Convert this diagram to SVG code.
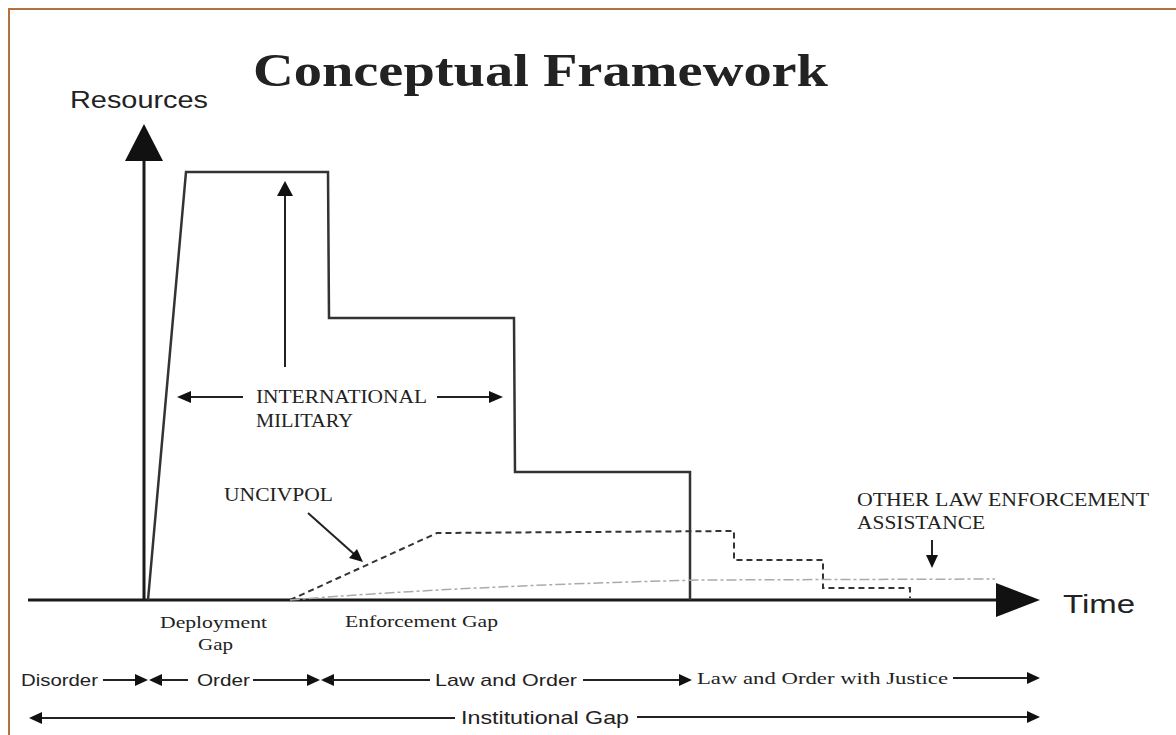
<svg xmlns="http://www.w3.org/2000/svg" width="1176" height="735" viewBox="0 0 1176 735">
<defs>
<style>
.ln{stroke:#222;stroke-width:2;fill:none}
.ax{stroke:#1a1a1a;stroke-width:3;fill:none}
.curve{stroke:#333;stroke-width:2.5;fill:none;stroke-linejoin:miter}
.dash{stroke:#333;stroke-width:2;fill:none;stroke-dasharray:6,4}
.faint{stroke:#aaa;stroke-width:1.5;fill:none;stroke-dasharray:10,3,3,3}
.hd{fill:#111}
.sans{font-family:"Liberation Sans",Arial,sans-serif;fill:#222}
.serif{font-family:"Liberation Serif","Times New Roman",serif;fill:#222}
</style>
</defs>
<rect width="1176" height="735" fill="#fff"/>
<g id="frame">
<path d="M9,735 L9,9 L1176,9" stroke="#b5703f" stroke-width="2" fill="none"/>
</g>
<g id="title">
<text class="serif" x="253" y="86" font-size="46" font-weight="bold" textLength="575" lengthAdjust="spacingAndGlyphs" fill="#111">Conceptual Framework</text>
</g>
<g id="axes">
<line class="ax" x1="144" y1="158" x2="144" y2="600"/>
<polygon class="hd" points="144,124 125,161 163,161"/>
<line class="ax" x1="28" y1="600" x2="1000" y2="600"/>
<polygon class="hd" points="996,583 1040,600 996,617"/>
</g>
<g id="resources">
<text class="sans" x="70" y="108" font-size="23" textLength="138" lengthAdjust="spacingAndGlyphs">Resources</text>
</g>
<g id="time">
<text class="sans" x="1063" y="613" font-size="25" textLength="72" lengthAdjust="spacingAndGlyphs">Time</text>
</g>
<g id="connectors">
<path id="military-curve" class="curve" d="M148,600 L186,172 L328,172 L329,318 L514,318 L515,472 L690,472 L690,600"/>
<path id="uncivpol-curve" class="dash" d="M290,600 L437,533 L734,531 L734,560 L823,560 L823,588 L910,588 L910,598"/>
<path id="other-curve" class="faint" d="M290,600 Q460,586 700,580 L995,579"/>
<line class="ln" x1="285" y1="367" x2="285" y2="193"/>
<polygon class="hd" points="285,181 277,196 293,196"/>
<line class="ln" x1="243" y1="397" x2="188" y2="397"/>
<polygon class="hd" points="177,397 191,391 191,403"/>
<line class="ln" x1="437" y1="397" x2="492" y2="397"/>
<polygon class="hd" points="503,397 489,391 489,403"/>
<line class="ln" x1="308" y1="513" x2="354" y2="554"/>
<polygon class="hd" points="363,562 349,558 357,549"/>
<line class="ln" x1="932" y1="540" x2="932" y2="557"/>
<polygon class="hd" points="932,568 926,555 938,555"/>
<line class="ln" x1="103" y1="680" x2="138" y2="680"/>
<polygon class="hd" points="148,680 135,674 135,686"/>
<polygon class="hd" points="149,680 162,674 162,686"/>
<line class="ln" x1="160" y1="680" x2="188" y2="680"/>
<line class="ln" x1="253" y1="680" x2="310" y2="680"/>
<polygon class="hd" points="320,680 307,674 307,686"/>
<polygon class="hd" points="321,680 334,674 334,686"/>
<line class="ln" x1="332" y1="680" x2="430" y2="680"/>
<line class="ln" x1="583" y1="680" x2="682" y2="680"/>
<polygon class="hd" points="692,680 679,674 679,686"/>
<line class="ln" x1="953" y1="678" x2="1030" y2="678"/>
<polygon class="hd" points="1040,678 1027,672 1027,684"/>
<line class="ln" x1="40" y1="718" x2="455" y2="718"/>
<polygon class="hd" points="29,718 42,712 42,724"/>
<line class="ln" x1="637" y1="717" x2="1030" y2="717"/>
<polygon class="hd" points="1040,717 1027,711 1027,723"/>
</g>
<g id="international-military">
<text class="serif" x="256" y="403" font-size="18" textLength="171" lengthAdjust="spacingAndGlyphs">INTERNATIONAL</text>
<text class="serif" x="256" y="427" font-size="18" textLength="97" lengthAdjust="spacingAndGlyphs">MILITARY</text>
</g>
<g id="uncivpol">
<text class="serif" x="224" y="501" font-size="18" textLength="109" lengthAdjust="spacingAndGlyphs">UNCIVPOL</text>
</g>
<g id="other-law">
<text class="serif" x="857" y="506" font-size="18" textLength="292" lengthAdjust="spacingAndGlyphs">OTHER LAW ENFORCEMENT</text>
<text class="serif" x="857" y="529" font-size="18" textLength="128" lengthAdjust="spacingAndGlyphs">ASSISTANCE</text>
</g>
<g id="deployment-gap">
<text class="serif" x="160" y="628" font-size="17" textLength="107" lengthAdjust="spacingAndGlyphs">Deployment</text>
<text class="serif" x="198" y="650" font-size="17" textLength="35" lengthAdjust="spacingAndGlyphs">Gap</text>
</g>
<g id="enforcement-gap">
<text class="serif" x="345" y="627" font-size="17" textLength="153" lengthAdjust="spacingAndGlyphs">Enforcement Gap</text>
</g>
<g id="disorder">
<text class="sans" x="21" y="686" font-size="17" textLength="77" lengthAdjust="spacingAndGlyphs">Disorder</text>
</g>
<g id="order">
<text class="sans" x="197" y="686" font-size="17" textLength="53" lengthAdjust="spacingAndGlyphs">Order</text>
</g>
<g id="law-and-order">
<text class="sans" x="435" y="686" font-size="17" textLength="142" lengthAdjust="spacingAndGlyphs">Law and Order</text>
</g>
<g id="law-order-justice">
<text class="serif" x="697" y="684" font-size="17" textLength="251" lengthAdjust="spacingAndGlyphs">Law and Order with Justice</text>
</g>
<g id="institutional-gap">
<text class="sans" x="461" y="724" font-size="19" textLength="168" lengthAdjust="spacingAndGlyphs">Institutional Gap</text>
</g>
</svg>
